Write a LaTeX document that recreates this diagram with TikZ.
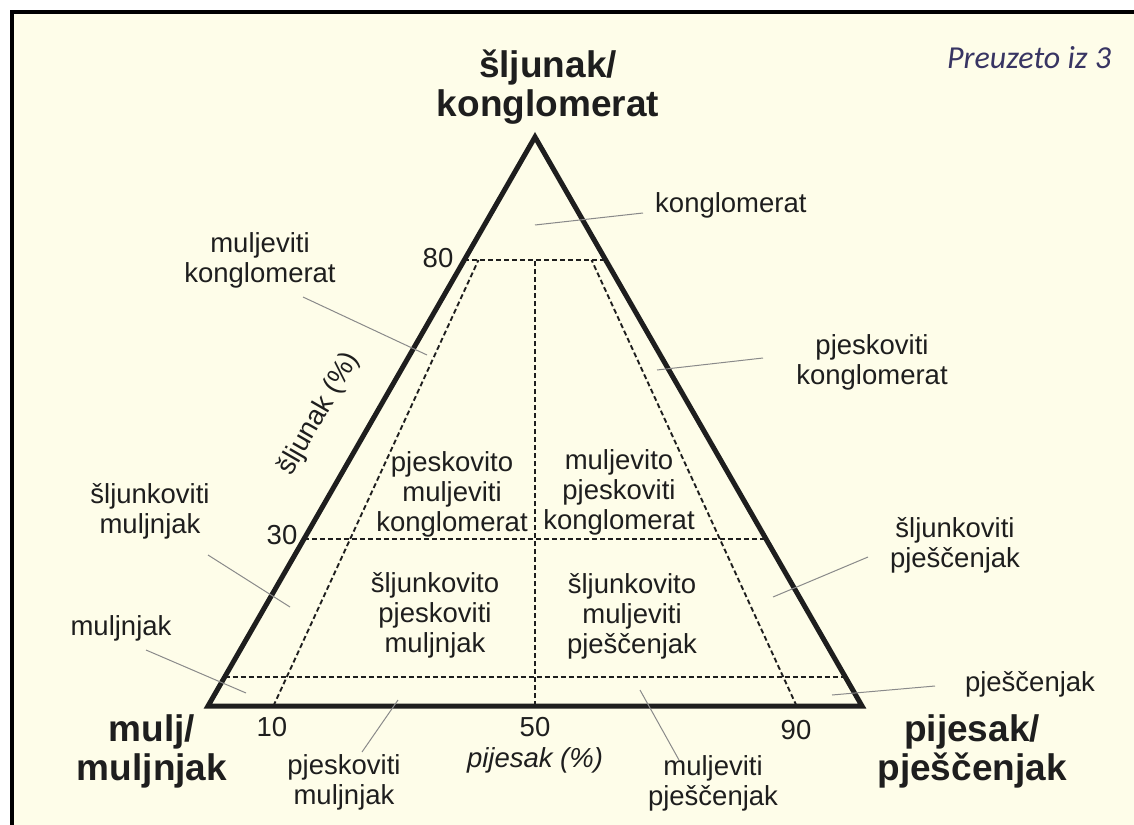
\documentclass[tikz,border=0pt]{standalone}
\usepackage{fontspec}
\setmainfont{Liberation Sans}
\newfontfamily\notefont{Carlito}
\usetikzlibrary{calc}
\definecolor{cream}{HTML}{FEFDE9}
\definecolor{ink}{HTML}{1E1E1E}
\definecolor{leadc}{HTML}{8A8A8A}
\definecolor{notec}{HTML}{383563}
\begin{document}
\begin{tikzpicture}[x=1pt,y=-1pt,
  lbl/.style={font=\fontsize{27.5}{30}\selectfont, align=center, text=ink, inner sep=0pt},
  big/.style={font=\fontsize{37}{39}\selectfont\bfseries, align=center, text=ink, inner sep=0pt},
  edgeline/.style={line width=5pt, line join=miter, draw=ink},
  divline/.style={dash pattern=on 5pt off 3pt, line width=1.9pt, draw=ink},
  leader/.style={line width=1pt, draw=leadc}]
\useasboundingbox (0,0) rectangle (1134,824);
\fill[white] (0,0) rectangle (1134,824);
\begin{scope}
\clip (0,0) rectangle (1134,824);
\draw[line width=4pt, fill=cream] (12,12) rectangle (1150,840);
\end{scope}
% triangle corners
\coordinate (A) at (535,137);
\coordinate (L) at (208,706);
\coordinate (R) at (862,706);
% division lines
\coordinate (h80l) at ($(L)!0.7838!(A)$);
\coordinate (h80r) at ($(R)!0.7838!(A)$);
\coordinate (h30l) at ($(L)!0.2935!(A)$);
\coordinate (h30r) at ($(R)!0.2935!(A)$);
\coordinate (h5l) at ($(L)!0.051!(A)$);
\coordinate (h5r) at ($(R)!0.051!(A)$);
\coordinate (b10) at ($(L)!0.1!(R)$);
\coordinate (b50) at ($(L)!0.5!(R)$);
\coordinate (b90) at ($(L)!0.9!(R)$);
\coordinate (t10) at ($(b10)!0.7838!(A)$);
\coordinate (t50) at ($(b50)!0.7838!(A)$);
\coordinate (t90) at ($(b90)!0.7838!(A)$);
\draw[divline] (h80l) -- (h80r);
\draw[divline] (h30l) -- (h30r);
\draw[divline] (h5l) -- (h5r);
\draw[divline] (b10) -- (t10);
\draw[divline] (b50) -- (t50);
\draw[divline] (b90) -- (t90);
\draw[edgeline] (L) -- (A) -- (R) -- cycle;
% corner titles
\node[big] (tg) at (548,87) {šljunak/\\konglomerat};
\node[big] (tm) at (152,751) {mulj/\\muljnjak};
\node[big] (tp) at (972,751) {pijesak/\\pješčenjak};
\node[font=\notefont\itshape\fontsize{32}{34}\selectfont, text=notec, inner sep=0pt] (src) at (1029,58) {Preuzeto iz 3};
% scale labels
\node[lbl] (n80) at (438,258) {80};
\node[lbl] (n30) at (282,535) {30};
\node[lbl] (n10) at (272,727) {10};
\node[lbl] (n50) at (535,727) {50};
\node[lbl] (n90) at (796,730) {90};
\node[lbl, font=\fontsize{27.5}{30}\selectfont\itshape] (axp) at (535,760) {pijesak (\%)};
\node[lbl, rotate=60] (axg) at (319,414) {šljunak (\%)};
% inner field labels
\node[lbl] (f1) at (452,494) {pjeskovito\\muljeviti\\konglomerat};
\node[lbl] (f2) at (619,492) {muljevito\\pjeskoviti\\konglomerat};
\node[lbl] (f3) at (435,615) {šljunkovito\\pjeskoviti\\muljnjak};
\node[lbl] (f4) at (632,616) {šljunkovito\\muljeviti\\pješčenjak};
% outer labels
\node[lbl, anchor=west] (o1) at (655,205) {konglomerat};
\node[lbl] (o2) at (260,260) {muljeviti\\konglomerat};
\node[lbl] (o3) at (872,362) {pjeskoviti\\konglomerat};
\node[lbl] (o4) at (150,511) {šljunkoviti\\muljnjak};
\node[lbl] (o5) at (955,545) {šljunkoviti\\pješčenjak};
\node[lbl] (o6) at (121,628) {muljnjak};
\node[lbl] (o7) at (1030,684) {pješčenjak};
\node[lbl] (o8) at (344,782) {pjeskoviti\\muljnjak};
\node[lbl] (o9) at (713,783) {muljeviti\\pješčenjak};
% leader lines
\coordinate (k1a) at (535,225); \coordinate (k1b) at (643,213);
\coordinate (k2a) at (303,297); \coordinate (k2b) at (427,355);
\coordinate (k3a) at (657,370); \coordinate (k3b) at (763,358);
\coordinate (k4a) at (208,555); \coordinate (k4b) at (290,607);
\coordinate (k5a) at (773,597); \coordinate (k5b) at (868,557);
\coordinate (k6a) at (146,650); \coordinate (k6b) at (246,693);
\coordinate (k7a) at (832,695); \coordinate (k7b) at (935,686);
\coordinate (k8a) at (362,752); \coordinate (k8b) at (398,700);
\coordinate (k9a) at (640,690); \coordinate (k9b) at (679,760);
\draw[leader] (k1a) -- (k1b);
\draw[leader] (k2a) -- (k2b);
\draw[leader] (k3a) -- (k3b);
\draw[leader] (k4a) -- (k4b);
\draw[leader] (k5a) -- (k5b);
\draw[leader] (k6a) -- (k6b);
\draw[leader] (k7a) -- (k7b);
\draw[leader] (k8a) -- (k8b);
\draw[leader] (k9a) -- (k9b);
\end{tikzpicture}
\end{document}
